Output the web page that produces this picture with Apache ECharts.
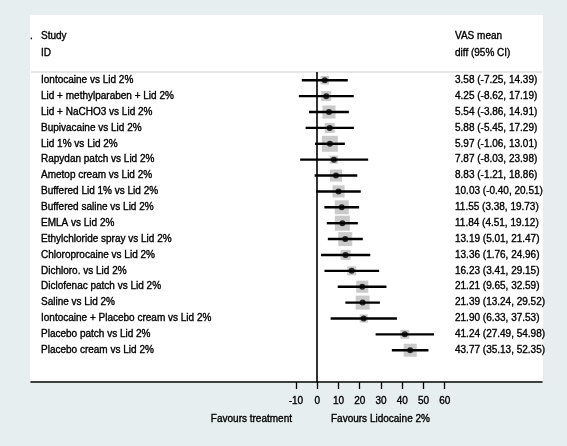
<!DOCTYPE html>
<html>
<head>
<meta charset="utf-8">
<script src="https://cdn.jsdelivr.net/npm/echarts@6/dist/echarts.min.js"></script>
<style>
html,body{margin:0;padding:0;background:#e7eef0;}
#panel{position:absolute;left:30px;top:15px;width:513px;height:368px;background:#fff;}
#chart{position:absolute;left:0;top:0;width:567px;height:446px;}
</style>
</head>
<body>
<div id="panel"></div>
<div id="chart"></div>
<script>
// ---- data ----
const studies = [
  "Iontocaine vs Lid 2%",
  "Lid + methylparaben + Lid 2%",
  "Lid + NaCHO3 vs Lid 2%",
  "Bupivacaine vs Lid 2%",
  "Lid 1% vs Lid 2%",
  "Rapydan patch vs Lid 2%",
  "Ametop cream vs Lid 2%",
  "Buffered Lid 1% vs Lid 2%",
  "Buffered saline vs Lid 2%",
  "EMLA vs Lid 2%",
  "Ethylchloride spray vs Lid 2%",
  "Chloroprocaine vs Lid 2%",
  "Dichloro. vs Lid 2%",
  "Diclofenac patch vs Lid 2%",
  "Saline vs Lid 2%",
  "Iontocaine + Placebo cream vs Lid 2%",
  "Placebo patch vs Lid 2%",
  "Placebo cream vs Lid 2%"
];
const meanDiff = [3.58, 4.25, 5.54, 5.88, 5.97, 7.87, 8.83, 10.03, 11.55, 11.84, 13.19, 13.36, 16.23, 21.21, 21.39, 21.90, 41.24, 43.77];
const ciLow    = [-7.25, -8.62, -3.86, -5.45, -1.06, -8.03, -1.21, -0.40, 3.38, 4.51, 5.01, 1.76, 3.41, 9.65, 13.24, 6.33, 27.49, 35.13];
const ciHigh   = [14.39, 17.19, 14.91, 17.29, 13.01, 23.98, 18.86, 20.51, 19.73, 19.12, 21.47, 24.96, 29.15, 32.59, 29.52, 37.53, 54.98, 52.35];
// approximate study weights (%)
const weights  = [2.9, 4.0, 6.8, 4.0, 10.2, 2.6, 5.8, 5.8, 7.8, 9.0, 7.8, 4.0, 3.2, 5.8, 7.8, 2.6, 3.2, 6.8];
const xTicks   = [-10, 0, 10, 20, 30, 40, 50, 60];

// ---- chart ----
const FONT = "'Liberation Sans', Arial, sans-serif";
const rows = studies.map((s, i) => i + 1);
const chart = echarts.init(document.getElementById('chart'), null, {renderer: 'canvas'});

const ciData = studies.map((s, i) => [ciLow[i], ciHigh[i], i + 1]);
const boxData = studies.map((s, i) => ({value: [meanDiff[i], i + 1], symbolSize: 5.0 * Math.sqrt(weights[i])}));
const dotData = studies.map((s, i) => [meanDiff[i], i + 1]);
const fmt = v => v.toFixed(2);

const TB = {textBorderColor: '#000', textBorderWidth: 0.35};
const txt = (x, y, t, align) => ({
  type: 'text', x: x, y: y,
  style: Object.assign({text: t, fill: '#000', font: '10px ' + FONT, textAlign: align || 'left', textVerticalAlign: 'middle',
    stroke: '#000', lineWidth: 0.35})
});
const lbl = Object.assign({color: '#000', fontSize: 10, fontFamily: FONT}, TB);

chart.setOption({
  animation: false,
  grid: {left: 31, top: 72, width: 511, height: 310, containLabel: false},
  xAxis: {
    type: 'value', min: -134.7, max: 105.8,
    axisLine: {show: true, onZero: false, lineStyle: {color: '#000', width: 1.6}},
    axisTick: {show: true, length: 7, customValues: xTicks, lineStyle: {color: '#000', width: 1.3}},
    axisLabel: Object.assign({show: true, customValues: xTicks, margin: 14}, lbl),
    splitLine: {show: false}
  },
  yAxis: [{
    type: 'value', min: 0.48, max: 20, inverse: true, position: 'left',
    axisLine: {show: false}, axisTick: {show: false}, splitLine: {show: false},
    axisLabel: Object.assign({show: true, customValues: rows, align: 'left', margin: -10,
      formatter: v => studies[Math.round(v) - 1] || ''}, lbl)
  }, {
    type: 'value', min: 0.48, max: 20, inverse: true, position: 'right',
    axisLine: {show: false}, axisTick: {show: false}, splitLine: {show: false},
    axisLabel: Object.assign({show: true, customValues: rows, align: 'left', margin: -87,
      formatter: v => { const i = Math.round(v) - 1; return i >= 0 && i < studies.length ? fmt(meanDiff[i]) + ' (' + fmt(ciLow[i]) + ', ' + fmt(ciHigh[i]) + ')' : ''; }}, lbl)
  }],
  graphic: [
    {type: 'line', shape: {x1: 31, y1: 72, x2: 542, y2: 72}, style: {stroke: '#d0d0d0', lineWidth: 1}},
    txt(30, 36, '.', 'left'),
    txt(41, 36, 'Study'), txt(41, 53, 'ID'),
    txt(455, 36, 'VAS mean'), txt(455, 53, 'diff (95% CI)'),
    txt(292, 419, 'Favours treatment', 'right'),
    txt(331, 419, 'Favours Lidocaine 2%', 'left')
  ],
  series: [
    {
      type: 'scatter', name: 'box', symbol: 'rect', data: boxData,
      itemStyle: {color: '#bdbdbd'}, silent: true, z: 1,
      markLine: {silent: true, symbol: 'none', label: {show: false},
        lineStyle: {color: '#000', width: 1.6, type: 'solid'}, data: [{xAxis: 0}]}
    },
    {
      type: 'custom', name: 'ci', data: ciData, z: 2, silent: true,
      renderItem: (params, api) => {
        const p1 = api.coord([api.value(0), api.value(2)]);
        const p2 = api.coord([api.value(1), api.value(2)]);
        return {type: 'line', shape: {x1: p1[0], y1: p1[1], x2: p2[0], y2: p2[1]},
          style: {stroke: '#000', lineWidth: 2.4}};
      },
      encode: {x: [0, 1], y: 2}
    },
    {
      type: 'scatter', name: 'dot', symbol: 'circle', symbolSize: 6, data: dotData,
      itemStyle: {color: '#000'}, silent: true, z: 3
    }
  ]
});
</script>
</body>
</html>
